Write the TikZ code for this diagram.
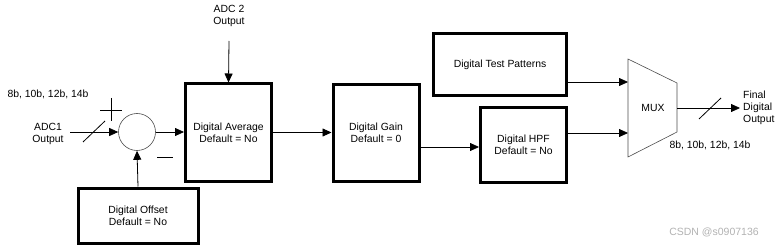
\documentclass[tikz,border=0pt]{standalone}
\usepackage{fontspec}
\setmainfont{Liberation Sans}
\usetikzlibrary{arrows.meta}
\begin{document}
\begin{tikzpicture}[x=1pt,y=-1pt,
  every node/.style={font=\fontsize{10.4}{12}\selectfont, inner sep=0pt},
  blk/.style={draw, line width=3pt, align=center},
  lbl/.style={align=center},
  conn/.style={line width=0.8pt, -{Triangle[length=9pt,width=8pt]}},
  thin/.style={line width=0.8pt}]
\useasboundingbox (0,0) rectangle (783,248);
% blocks
\node[blk,minimum width=86pt,minimum height=97pt] (avg) at (228.5,132.5) {Digital Average\\Default = No};
\node[blk,minimum width=86pt,minimum height=97pt] (gain) at (376,133) {Digital Gain\\Default = 0};
\node[blk,minimum width=86pt,minimum height=74pt] (hpf) at (523.5,145) {Digital HPF\\Default = No};
\node[blk,minimum width=133pt,minimum height=62pt] (tp) at (500,64.5) {Digital Test Patterns};
\node[blk,minimum width=120pt,minimum height=55pt] (off) at (138,215.5) {Digital Offset\\Default = No};
% summing junction
\node[draw=black!70,line width=0.6pt,circle,minimum size=37pt] (sum) at (137,132) {};
% MUX
\draw[draw=black!70,line width=0.6pt] (628,59) -- (677,83) -- (677,132) -- (628,157) -- cycle;
\coordinate (muxin1) at (628,82);
\coordinate (muxin2) at (628,133);
\coordinate (muxout) at (677,108);
\node (mux) at (653,108) {MUX};
% texts
\node[lbl] (adc1) at (48,133.5) {ADC1\\Output};
\node (bits1) at (48,94) {8b, 10b, 12b, 14b};
\node[lbl] (adc2) at (229,16) {ADC 2\\Output};
\node[align=left,anchor=west] (final) at (743,107.5) {Final\\Digital\\Output};
\node (bits2) at (710,145.5) {8b, 10b, 12b, 14b};
\node[text=black!30,font=\fontsize{10.5}{12}\selectfont] (wm) at (714,232) {CSDN @s0907136};
% connectors
\coordinate (in1) at (70,132);
\draw[conn] (in1) -- (sum.west);
\draw[thin] (83,142) -- (105,121);
\draw[thin] (100,110) -- (122,110) (111,98) -- (111,121);
\draw[thin] (157,157) -- (173,157);
\draw[conn] (off.north) -- (sum.south);
\draw[conn] (sum.east) -- (avg.west |- sum.east);
\coordinate (a2) at (229,41);
\draw[conn] (a2) -- (avg.north);
\draw[conn] (avg.east) -- (gain.west |- avg.east);
\draw[conn] (gain.east |- 0,147) -- (hpf.west |- 0,147);
\draw[conn] (tp.east |- muxin1) -- (muxin1);
\draw[conn] (hpf.east |- muxin2) -- (muxin2);
\coordinate (outend) at (740,108);
\draw[conn] (muxout) -- (outend);
\draw[thin] (699,119) -- (721,98);
\end{tikzpicture}
\end{document}
